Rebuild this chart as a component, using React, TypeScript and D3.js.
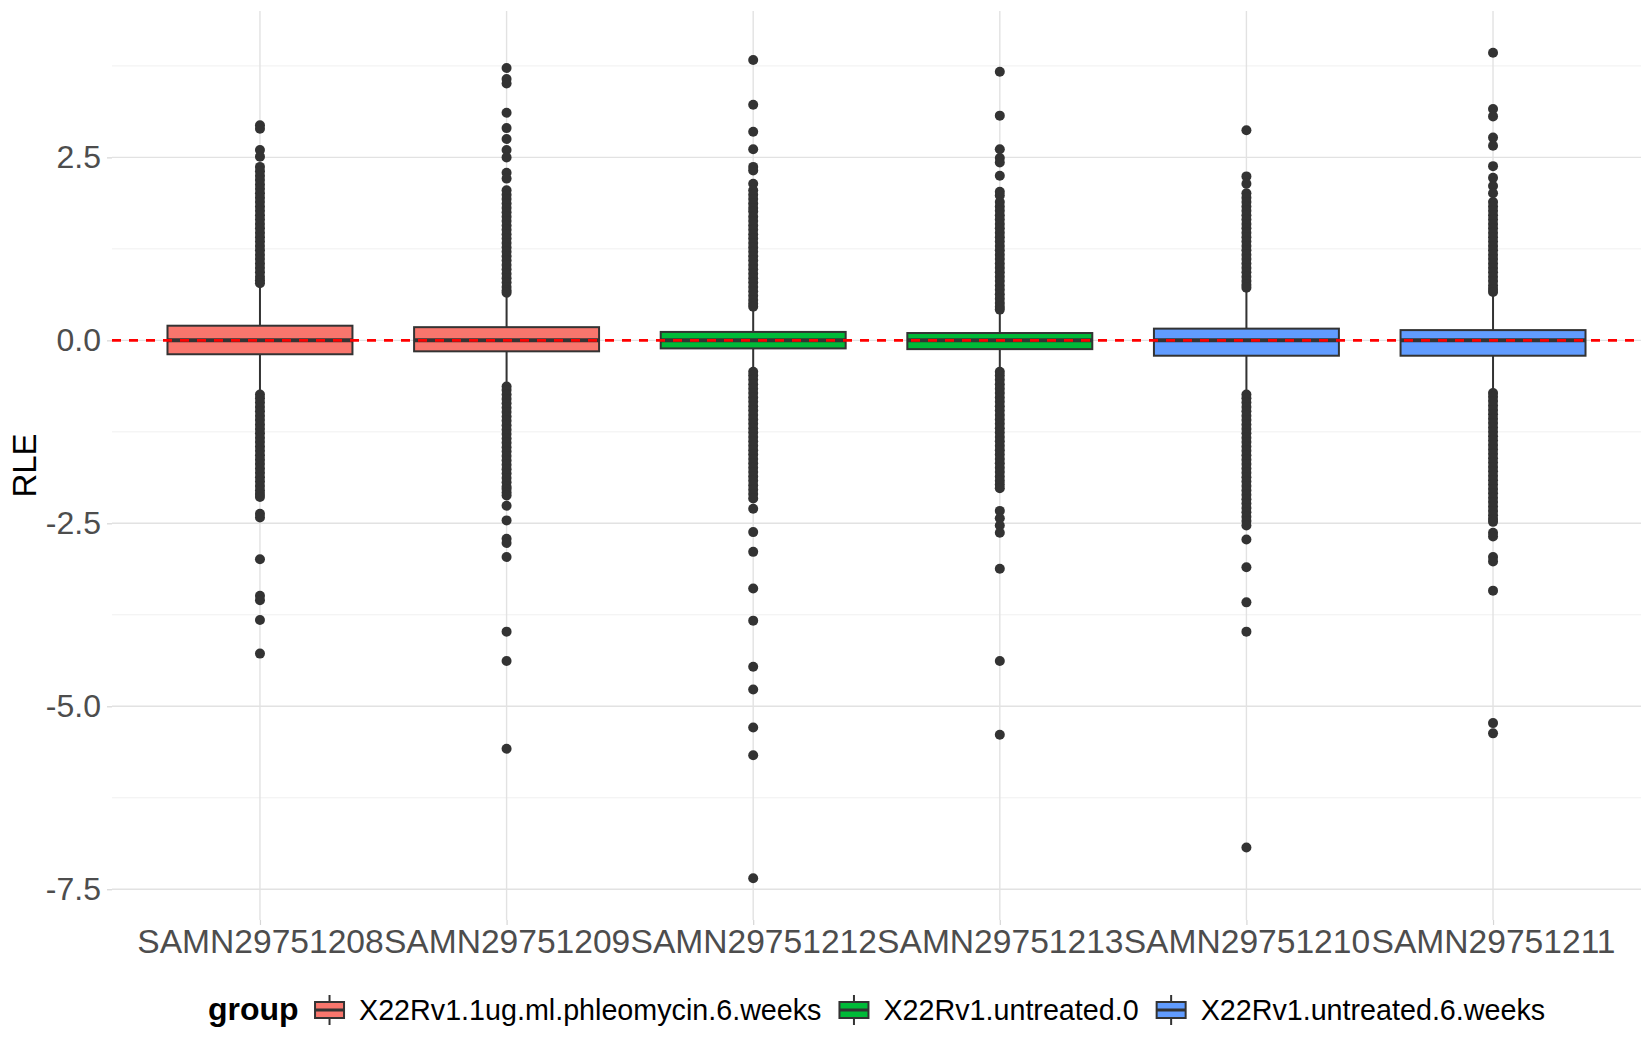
import { useEffect, useRef } from "react";
import * as d3 from "d3";

// samples in plotting order and their group
const samples = ["SAMN29751208", "SAMN29751209", "SAMN29751212", "SAMN29751213", "SAMN29751210", "SAMN29751211"];
const sampleGroup = [0, 0, 1, 1, 2, 2];
const groups = ["X22Rv1.1ug.ml.phleomycin.6.weeks", "X22Rv1.untreated.0", "X22Rv1.untreated.6.weeks"];
const groupColors = ["#F8766D", "#00BA38", "#619CFF"];

// box statistics
const q1 = [-0.19, -0.15, -0.11, -0.12, -0.21, -0.21];
const medians = [0, 0, 0, 0, 0, 0];
const q3 = [0.2, 0.18, 0.115, 0.1, 0.16, 0.14];
const whiskerLo = [-0.72, -0.61, -0.42, -0.42, -0.72, -0.7];
const whiskerHi = [0.76, 0.63, 0.44, 0.4, 0.7, 0.64];

// outliers per sample
const outliers1208 = [2.94, 2.89, 2.6, 2.51, 2.37, 2.31, 2.25, 2.19, 2.13, 2.07, 2.01, 1.95, 1.89, 1.83, 1.77, 1.71, 1.65, 1.59, 1.53, 1.47, 1.41, 1.35, 1.29, 1.23, 1.17, 1.11, 1.05, 0.99, 0.93, 0.87, 0.82, 0.78,
  -0.74, -0.79, -0.85, -0.91, -0.97, -1.03, -1.09, -1.15, -1.21, -1.27, -1.33, -1.39, -1.45, -1.51, -1.57, -1.63, -1.69, -1.75, -1.81, -1.87, -1.93, -1.99, -2.05, -2.1, -2.14, -2.37, -2.42, -2.99, -3.49, -3.55, -3.82, -4.28];
const outliers1209 = [3.72, 3.57, 3.51, 3.11, 2.9, 2.75, 2.6, 2.5, 2.29, 2.21, 2.05, 1.99, 1.93, 1.87, 1.81, 1.75, 1.69, 1.63, 1.57, 1.51, 1.45, 1.39, 1.33, 1.27, 1.21, 1.15, 1.09, 1.03, 0.97, 0.91, 0.85, 0.79, 0.73, 0.68, 0.65,
  -0.63, -0.68, -0.74, -0.8, -0.86, -0.92, -0.98, -1.04, -1.1, -1.16, -1.22, -1.28, -1.34, -1.4, -1.46, -1.52, -1.58, -1.64, -1.7, -1.76, -1.82, -1.88, -1.94, -2.0, -2.03, -2.08, -2.12, -2.26, -2.46, -2.71, -2.77, -2.96, -3.98, -4.38, -5.58];
const outliers1212 = [3.83, 3.22, 2.85, 2.61, 2.37, 2.32, 2.14, 2.05, 1.99, 1.93, 1.87, 1.81, 1.76, 1.69, 1.63, 1.57, 1.51, 1.45, 1.39, 1.33, 1.27, 1.21, 1.15, 1.09, 1.03, 0.97, 0.91, 0.85, 0.79, 0.73, 0.67, 0.61, 0.55, 0.5, 0.46,
  -0.43, -0.48, -0.54, -0.6, -0.66, -0.72, -0.78, -0.84, -0.9, -0.96, -1.02, -1.08, -1.14, -1.2, -1.26, -1.32, -1.38, -1.44, -1.5, -1.56, -1.62, -1.68, -1.74, -1.8, -1.86, -1.92, -1.98, -2.04, -2.1, -2.16, -2.3, -2.62, -2.89, -3.39, -3.83, -4.46, -4.77, -5.29, -5.67, -7.35];
const outliers1213 = [3.67, 3.07, 2.61, 2.49, 2.43, 2.25, 2.03, 1.98, 1.89, 1.83, 1.77, 1.71, 1.65, 1.59, 1.53, 1.47, 1.41, 1.35, 1.29, 1.23, 1.17, 1.11, 1.05, 0.99, 0.93, 0.87, 0.81, 0.75, 0.69, 0.63, 0.57, 0.51, 0.46, 0.42,
  -0.43, -0.48, -0.54, -0.6, -0.66, -0.72, -0.78, -0.84, -0.9, -0.96, -1.02, -1.08, -1.14, -1.2, -1.26, -1.32, -1.38, -1.44, -1.5, -1.56, -1.62, -1.68, -1.74, -1.8, -1.86, -1.92, -1.97, -2.02, -2.33, -2.43, -2.53, -2.63, -3.12, -4.38, -5.39];
const outliers1210 = [2.87, 2.24, 2.14, 2.01, 1.95, 1.89, 1.83, 1.77, 1.71, 1.65, 1.59, 1.53, 1.47, 1.41, 1.35, 1.29, 1.23, 1.17, 1.11, 1.05, 0.99, 0.93, 0.87, 0.81, 0.76, 0.72,
  -0.74, -0.79, -0.85, -0.91, -0.97, -1.03, -1.09, -1.15, -1.21, -1.27, -1.33, -1.39, -1.45, -1.51, -1.57, -1.63, -1.69, -1.75, -1.81, -1.87, -1.93, -1.99, -2.05, -2.11, -2.17, -2.23, -2.29, -2.35, -2.41, -2.47, -2.53, -2.72, -3.1, -3.58, -3.98, -6.93];
const outliers1211 = [3.93, 3.16, 3.06, 2.77, 2.66, 2.38, 2.22, 2.11, 2.01, 1.89, 1.83, 1.77, 1.71, 1.65, 1.59, 1.53, 1.47, 1.41, 1.35, 1.29, 1.23, 1.17, 1.11, 1.05, 0.99, 0.93, 0.87, 0.81, 0.75, 0.7, 0.66,
  -0.72, -0.77, -0.83, -0.89, -0.95, -1.01, -1.07, -1.13, -1.19, -1.25, -1.31, -1.37, -1.43, -1.49, -1.55, -1.61, -1.67, -1.73, -1.79, -1.85, -1.91, -1.97, -2.03, -2.09, -2.15, -2.21, -2.27, -2.33, -2.39, -2.44, -2.48, -2.63, -2.68, -2.96, -3.02, -3.42, -5.23, -5.37];
const outliers = [outliers1208, outliers1209, outliers1212, outliers1213, outliers1210, outliers1211];

const yTicks = [-7.5, -5.0, -2.5, 0.0, 2.5];
const yMinor = [-6.25, -3.75, -1.25, 1.25, 3.75];
const yDomain = [-7.92, 4.5];

const FONT = "'Liberation Sans', Arial, Helvetica, sans-serif";
const WIDTH = 1650;
const HEIGHT = 1050;

export default function App() {
  const svgRef = useRef<SVGSVGElement>(null);

  useEffect(() => {
    if (!svgRef.current) return;
    const svg = d3.select(svgRef.current);
    svg.selectAll("*").remove();

    const panel = { left: 112, right: 1641, top: 11, bottom: 920 };

    const x = d3.scalePoint<string>().domain(samples).range([panel.left, panel.right]).padding(0.6);
    const y = d3.scaleLinear().domain(yDomain).range([panel.bottom, panel.top]);
    const boxW = x.step() * 0.75;

    svg.append("rect").attr("width", WIDTH).attr("height", HEIGHT).attr("fill", "#ffffff");

    const g = svg.append("g");

    // minor horizontal grid
    g.selectAll(".minor").data(yMinor).enter().append("line")
      .attr("x1", panel.left).attr("x2", panel.right)
      .attr("y1", d => y(d)).attr("y2", d => y(d))
      .attr("stroke", "#F0F0F0").attr("stroke-width", 1);

    // major horizontal grid
    g.selectAll(".major").data(yTicks).enter().append("line")
      .attr("x1", panel.left).attr("x2", panel.right)
      .attr("y1", d => y(d)).attr("y2", d => y(d))
      .attr("stroke", "#E2E2E2").attr("stroke-width", 1.4);

    // vertical grid at samples
    g.selectAll(".vgrid").data(samples).enter().append("line")
      .attr("x1", d => x(d)!).attr("x2", d => x(d)!)
      .attr("y1", panel.top).attr("y2", panel.bottom)
      .attr("stroke", "#E2E2E2").attr("stroke-width", 1.4);

    // boxplots
    samples.forEach((s, i) => {
      const cx = x(s)!;
      const col = groupColors[sampleGroup[i]];
      const bg = g.append("g");
      bg.append("line").attr("x1", cx).attr("x2", cx)
        .attr("y1", y(q3[i])).attr("y2", y(whiskerHi[i]))
        .attr("stroke", "#333333").attr("stroke-width", 2);
      bg.append("line").attr("x1", cx).attr("x2", cx)
        .attr("y1", y(q1[i])).attr("y2", y(whiskerLo[i]))
        .attr("stroke", "#333333").attr("stroke-width", 2);
      bg.append("rect")
        .attr("x", cx - boxW / 2).attr("width", boxW)
        .attr("y", y(q3[i])).attr("height", y(q1[i]) - y(q3[i]))
        .attr("fill", col).attr("stroke", "#333333").attr("stroke-width", 2);
      bg.append("line")
        .attr("x1", cx - boxW / 2).attr("x2", cx + boxW / 2)
        .attr("y1", y(medians[i])).attr("y2", y(medians[i]))
        .attr("stroke", "#333333").attr("stroke-width", 4);
      bg.selectAll("circle").data(outliers[i]).enter().append("circle")
        .attr("cx", cx).attr("cy", d => y(d)).attr("r", 5)
        .attr("fill", "#333333");
    });

    // red dashed reference at 0
    g.append("line")
      .attr("x1", panel.left).attr("x2", panel.right)
      .attr("y1", y(0)).attr("y2", y(0))
      .attr("stroke", "#FF0000").attr("stroke-width", 2.6)
      .attr("stroke-dasharray", "9,8");

    // y axis
    g.append("g").attr("transform", `translate(${panel.left},0)`)
      .call(d3.axisLeft(y).tickValues(yTicks).tickSize(5).tickPadding(6).tickFormat(d => (+d).toFixed(1)))
      .call(ax => ax.select(".domain").remove())
      .call(ax => ax.selectAll(".tick line").attr("stroke", "#D6D6D6").attr("stroke-width", 1.2))
      .call(ax => ax.selectAll(".tick text").attr("fill", "#4D4D4D").attr("font-size", 32).attr("font-family", FONT));

    // x axis
    g.append("g").attr("transform", `translate(0,${panel.bottom})`)
      .call(d3.axisBottom(x).tickSize(5).tickPadding(4))
      .call(ax => ax.select(".domain").remove())
      .call(ax => ax.selectAll(".tick line").attr("stroke", "#D6D6D6").attr("stroke-width", 1.2))
      .call(ax => ax.selectAll(".tick text").attr("fill", "#4D4D4D").attr("font-size", 33.6).attr("font-family", FONT));

    // y title
    svg.append("text")
      .attr("transform", `translate(35.5,${(panel.top + panel.bottom) / 2}) rotate(-90)`)
      .attr("text-anchor", "middle").attr("font-size", 33).attr("font-family", FONT)
      .attr("fill", "#000000").text("RLE");

    // legend
    const lg = svg.append("g");
    const baseY = 1020;
    const keyW = 29;
    const title = lg.append("text").attr("y", baseY).attr("font-size", 32).attr("font-weight", "bold")
      .attr("font-family", FONT).attr("fill", "#000000").text("group");
    const items = groups.map((name, k) => {
      const key = lg.append("g");
      key.append("line").attr("x1", keyW / 2).attr("x2", keyW / 2).attr("y1", 995).attr("y2", 1025)
        .attr("stroke", "#333333").attr("stroke-width", 2);
      key.append("rect").attr("x", 0).attr("width", keyW).attr("y", 1002).attr("height", 16)
        .attr("fill", groupColors[k]).attr("stroke", "#333333").attr("stroke-width", 2);
      key.append("line").attr("x1", 0).attr("x2", keyW).attr("y1", 1010).attr("y2", 1010)
        .attr("stroke", "#333333").attr("stroke-width", 3);
      const t = lg.append("text").attr("y", baseY).attr("font-size", 28.7)
        .attr("font-family", FONT).attr("fill", "#000000").text(name);
      return { key, t };
    });
    const titleW = (title.node() as SVGTextElement).getComputedTextLength();
    const widths = items.map(it => (it.t.node() as SVGTextElement).getComputedTextLength());
    const total = titleW + 16.5 + d3.sum(widths) + groups.length * (keyW + 15) + (groups.length - 1) * 18;
    let cur = (panel.left + panel.right) / 2 - total / 2;
    title.attr("x", cur);
    cur += titleW + 16.5;
    items.forEach((it, k) => {
      it.key.attr("transform", `translate(${cur},0)`);
      cur += keyW + 15;
      it.t.attr("x", cur);
      cur += widths[k] + 18;
    });
  }, []);

  return (
    <svg
      ref={svgRef}
      width={WIDTH}
      height={HEIGHT}
      style={{ position: "absolute", left: 0, top: 0 }}
    />
  );
}
